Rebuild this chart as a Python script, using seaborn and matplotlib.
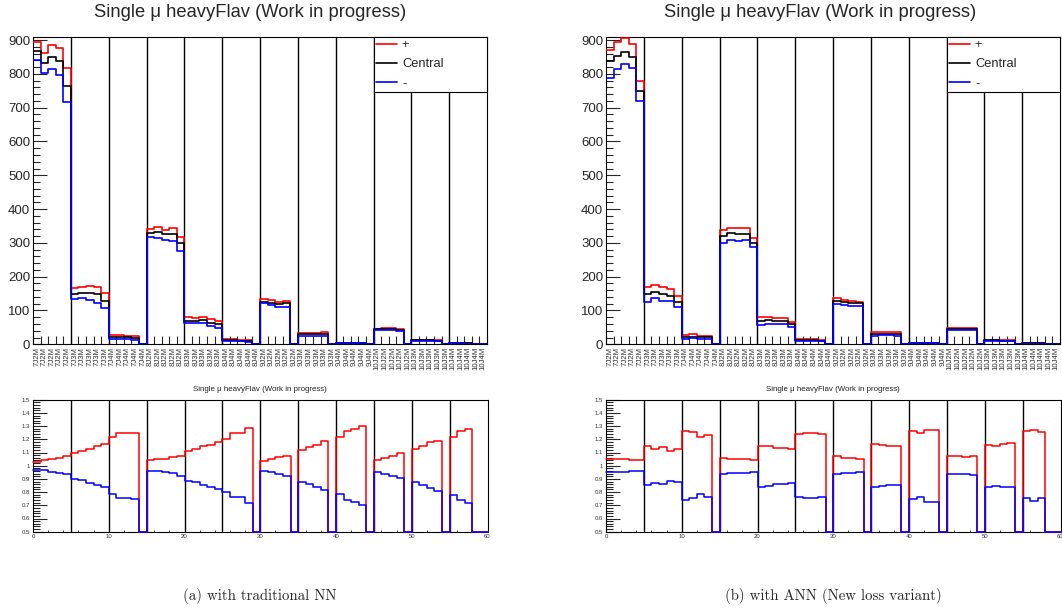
import numpy as np
import pandas as pd
import matplotlib
matplotlib.use("Agg")
import matplotlib.pyplot as plt
from matplotlib.lines import Line2D
from matplotlib.ticker import MultipleLocator, FormatStrFormatter
import seaborn as sns

# ---------------- data ----------------
groups = ["7J2M", "7J3M", "7J4M", "8J2M", "8J3M", "8J4M",
          "9J2M", "9J3M", "9J4M", "10J2M", "10J3M", "10J4M"]
bin_labels = [g for g in groups for _ in range(5)]
title_text = "Single \u03bc heavyFlav (Work in progress)"
captions = ["(a) with traditional NN", "(b) with ANN (New loss variant)"]
series_names = ["+", "Central", "-"]

plus_a = [893, 861, 885, 878, 816,
          166, 170, 172, 169, 153,
          27, 28.5, 26, 24, 0,
          340, 346, 338, 343, 318,
          80, 77, 82, 74, 70,
          15, 16, 13, 12, 0,
          133, 131, 126, 129, 0,
          33, 34.5, 34.5, 36, 0,
          5, 5, 4.5, 4.5, 0,
          46, 48, 48, 44, 0,
          14, 14, 13.5, 13, 0,
          3.5, 3.5, 3, 0, 0]
central_a = [868, 831, 849, 838, 765,
             149, 153, 152, 148, 129,
             22, 23, 21, 19, 0,
             328, 332, 325, 325, 299,
             70, 69, 72, 64, 60,
             12.5, 13, 10.5, 9.5, 0,
             126, 123, 119, 121, 0,
             29.5, 30, 30, 30.5, 0,
             4, 4, 3.5, 3.5, 0,
             44, 45, 45, 41, 0,
             12.5, 12.5, 11.5, 11, 0,
             3, 3, 2.5, 0, 0]
minus_a = [841, 803, 813, 798, 718,
           133, 136, 131, 123, 108,
           17, 17, 16, 14, 0,
           316, 315, 308, 306, 276,
           64, 62, 62, 54, 49,
           10, 10, 8.5, 7, 0,
           123, 116, 111, 111, 0,
           26, 26, 25, 24.5, 0,
           3, 3, 2.5, 2.5, 0,
           42, 42, 42, 38, 0,
           11, 10.5, 9.5, 9, 0,
           2.5, 2.5, 2, 0, 0]

ratio_plus_a = [1.03, 1.04, 1.05, 1.055, 1.07,
                1.10, 1.11, 1.13, 1.15, 1.165,
                1.215, 1.247, 1.247, 1.25, 0,
                1.04, 1.047, 1.052, 1.065, 1.077,
                1.115, 1.125, 1.146, 1.158, 1.18,
                1.20, 1.247, 1.247, 1.285, 0,
                1.039, 1.052, 1.065, 1.075, 0,
                1.12, 1.14, 1.158, 1.184, 0,
                1.214, 1.265, 1.277, 1.297, 0,
                1.044, 1.062, 1.075, 1.095, 0,
                1.125, 1.146, 1.176, 1.19, 0,
                1.22, 1.26, 1.277, 0, 0]
ratio_minus_a = [0.97, 0.965, 0.955, 0.945, 0.935,
                 0.90, 0.892, 0.872, 0.852, 0.837,
                 0.784, 0.753, 0.753, 0.75, 0,
                 0.963, 0.96, 0.953, 0.943, 0.925,
                 0.885, 0.875, 0.855, 0.842, 0.82,
                 0.80, 0.76, 0.76, 0.72, 0,
                 0.963, 0.951, 0.935, 0.923, 0,
                 0.88, 0.86, 0.842, 0.816, 0,
                 0.786, 0.74, 0.725, 0.70, 0,
                 0.956, 0.935, 0.925, 0.91, 0,
                 0.875, 0.855, 0.83, 0.81, 0,
                 0.78, 0.74, 0.72, 0, 0]

plus_b = [870, 893, 905, 887, 779,
          170, 175, 170, 163, 144,
          27, 29, 25, 26, 0,
          338, 345, 343, 343, 315,
          80, 82, 79, 79, 67,
          15, 16, 15, 14, 0,
          136, 131, 129, 126, 0,
          35, 36, 35, 35, 0,
          5, 5, 5, 5, 0,
          47, 49, 49, 47, 0,
          13, 13, 13, 12, 0,
          3, 3, 3, 0, 0]
central_b = [839, 853, 866, 851, 749,
             148, 154, 149, 144, 126,
             22, 23, 21, 21, 0,
             320, 328, 326, 326, 301,
             69, 72, 70, 70, 59,
             12, 13, 12, 11, 0,
             129, 124, 121, 121, 0,
             31, 31.5, 31, 31, 0,
             4, 4, 4, 4, 0,
             44, 46, 46, 44, 0,
             11.5, 11.5, 11, 10.5, 0,
             2.5, 2.5, 2.5, 0, 0]
minus_b = [789, 813, 828, 816, 720,
           126, 136, 129, 129, 111,
           17, 18, 17, 16, 0,
           299, 310, 307, 308, 287,
           57, 60, 60, 60, 50,
           9, 10, 9, 8.5, 0,
           119, 116, 114, 113, 0,
           26, 27, 26.5, 26, 0,
           3, 3, 3, 3, 0,
           41, 43, 43, 41, 0,
           10, 10, 9.5, 9, 0,
           2, 2, 2, 0, 0]

ratio_plus_b = [1.049, 1.049, 1.049, 1.042, 1.042,
                1.146, 1.125, 1.138, 1.115, 1.123,
                1.26, 1.252, 1.216, 1.234, 0,
                1.057, 1.052, 1.052, 1.052, 1.044,
                1.153, 1.15, 1.133, 1.133, 1.125,
                1.24, 1.247, 1.247, 1.242, 0,
                1.07, 1.062, 1.062, 1.052, 0,
                1.163, 1.158, 1.153, 1.15, 0,
                1.26, 1.247, 1.272, 1.272, 0,
                1.07, 1.07, 1.065, 1.07, 0,
                1.158, 1.15, 1.163, 1.17, 0,
                1.26, 1.272, 1.255, 0, 0]
ratio_minus_b = [0.956, 0.956, 0.956, 0.963, 0.963,
                 0.855, 0.872, 0.862, 0.887, 0.88,
                 0.74, 0.753, 0.784, 0.766, 0,
                 0.94, 0.948, 0.948, 0.948, 0.956,
                 0.842, 0.847, 0.862, 0.862, 0.872,
                 0.766, 0.753, 0.753, 0.76, 0,
                 0.935, 0.943, 0.943, 0.95, 0,
                 0.837, 0.847, 0.852, 0.855, 0,
                 0.748, 0.76, 0.728, 0.728, 0,
                 0.935, 0.935, 0.935, 0.928, 0,
                 0.842, 0.85, 0.842, 0.835, 0,
                 0.753, 0.735, 0.753, 0, 0]

# ---------------- style ----------------
sns.set_style("ticks")
plt.rcParams["font.family"] = ["Liberation Sans", "DejaVu Sans"]
plt.rcParams["axes.linewidth"] = 0.8
plt.rcParams["axes.edgecolor"] = "black"

palette = {"+": "#ff0000", "Central": "#000000", "-": "#0000ff"}
W, H = 1062, 608
fig = plt.figure(figsize=(W / 100, H / 100), dpi=100)


def px_axes(l, t, r, b):
    return fig.add_axes([l / W, 1 - b / H, (r - l) / W, (b - t) / H])


def step_frame(series_dict, lo=None, hi=None):
    rows = []
    for name, vals in series_dict.items():
        v = np.asarray(vals, dtype=float)
        if lo is not None:
            v = np.clip(v, lo, hi)
        ys = np.append(v, v[-1])
        for i, y in enumerate(ys):
            rows.append({"x": float(i), "y": y, "series": name})
    return pd.DataFrame(rows)


nb = len(bin_labels)
sep = np.arange(5, nb, 5)

panels = [
    (33, 487, (plus_a, central_a, minus_a), (ratio_plus_a, ratio_minus_a), 250, captions[0]),
    (606, 1060, (plus_b, central_b, minus_b), (ratio_plus_b, ratio_minus_b), 820, captions[1]),
]

for left, right, (p, c, m), (rp, rm), tcx, cap in panels:
    # ---------- top histogram ----------
    ax = px_axes(left, 36.7, right, 344.3)
    ymax = 910
    ax.vlines(sep, 0, ymax, color="black", lw=1.0, zorder=1)
    df = step_frame({"+": p, "Central": c, "-": m})
    sns.lineplot(data=df, x="x", y="y", hue="series", hue_order=series_names,
                 palette=palette, drawstyle="steps-post", estimator=None,
                 sort=True, legend=False, linewidth=1.2, ax=ax, zorder=3)
    ax.set_xlim(0, nb)
    ax.set_ylim(0, ymax)
    ax.set_xlabel("")
    ax.set_ylabel("")
    ax.set_xticks(np.arange(nb) + 0.5)
    ax.set_xticklabels(bin_labels, rotation=90, fontsize=5.6, color="#333333")
    ax.set_xticks(np.arange(0, nb + 1), minor=True)
    ax.tick_params(axis="x", which="major", length=0, pad=2)
    ax.tick_params(axis="x", which="minor", length=6, width=0.8, direction="in",
                   top=False, bottom=True)
    ax.yaxis.set_major_locator(MultipleLocator(100))
    ax.yaxis.set_minor_locator(MultipleLocator(20))
    ax.tick_params(axis="y", which="major", length=10, width=0.8, direction="in",
                   labelsize=9.5, pad=2, right=False)
    ax.tick_params(axis="y", which="minor", length=5, width=0.8, direction="in",
                   right=False)
    handles = [Line2D([], [], color=palette[n], lw=1.2) for n in series_names]
    leg = ax.legend(handles, series_names, loc="upper left",
                    bbox_to_anchor=(45, 740, 15, ymax - 740),
                    bbox_transform=ax.transData, mode="expand",
                    borderaxespad=0, frameon=True, fancybox=False,
                    edgecolor="black", facecolor="white", framealpha=1,
                    fontsize=9.3, handlelength=1.6, handletextpad=0.4,
                    labelspacing=0.55, borderpad=0.2)
    leg.get_frame().set_linewidth(0.8)
    leg.set_zorder(5)

    # ---------- ratio ----------
    ar = px_axes(left, 399.7, right + 0.5, 531.7)
    ar.vlines(sep, 0.5, 1.5, color="black", lw=1.0, zorder=1)
    dfr = step_frame({"+": rp, "-": rm}, 0.5, 1.5)
    sns.lineplot(data=dfr, x="x", y="y", hue="series", hue_order=["+", "-"],
                 palette=palette, drawstyle="steps-post", estimator=None,
                 sort=True, legend=False, linewidth=1.1, ax=ar, zorder=3,
                 clip_on=False)
    ar.set_xlim(0, nb)
    ar.set_ylim(0.5, 1.5)
    ar.set_xlabel("")
    ar.set_ylabel("")
    ar.xaxis.set_major_locator(MultipleLocator(10))
    ar.xaxis.set_minor_locator(MultipleLocator(2))
    ar.yaxis.set_major_locator(MultipleLocator(0.1))
    ar.yaxis.set_minor_locator(MultipleLocator(0.02))
    ar.yaxis.set_major_formatter(FormatStrFormatter("%g"))
    ar.tick_params(axis="x", which="major", length=3, width=0.6, direction="in",
                   labelsize=4.3, pad=1.5, top=False, colors="black")
    ar.tick_params(axis="x", which="minor", length=1.5, width=0.6, direction="in",
                   top=False)
    ar.tick_params(axis="y", which="major", length=10, width=0.8, direction="in",
                   labelsize=4.3, pad=2, right=False)
    ar.tick_params(axis="y", which="minor", length=5, width=0.8, direction="in",
                   right=False)
    for lab in ar.get_xticklabels() + ar.get_yticklabels():
        lab.set_color("#333333")

    # ---------- texts ----------
    fig.text(tcx / W, 1 - 12.5 / H, title_text, ha="center", va="center",
             fontsize=13.2)
    fig.text((left + right) / 2 / W, 1 - 389.3 / H, title_text, ha="center",
             va="center", fontsize=5.7, color="#222222")
    fig.text((left + right) / 2 / W, 1 - 596 / H, cap, ha="center", va="center",
             fontsize=10.7, family="cmr10")

fig.savefig("out.png", dpi=100)
